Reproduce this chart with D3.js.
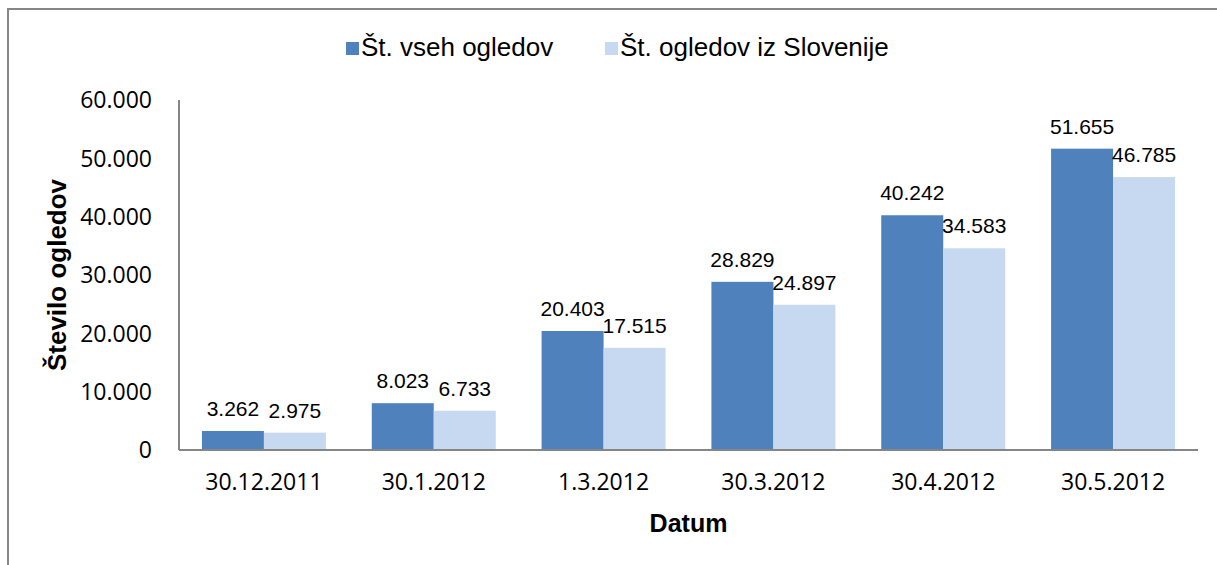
<!DOCTYPE html>
<html>
<head>
<meta charset="utf-8">
<script src="https://cdn.jsdelivr.net/npm/d3@7"></script>
<style>
  body { margin: 0; background: #fff; }
  svg { display: block; }
</style>
</head>
<body>
<svg id="chart" width="1217" height="565"></svg>
<script>
// data
const dates = ["30.12.2011", "30.1.2012", "1.3.2012", "30.3.2012", "30.4.2012", "30.5.2012"];
const seriesNames = ["Št. vseh ogledov", "Št. ogledov iz Slovenije"];
const allViews = [3262, 8023, 20403, 28829, 40242, 51655];
const sloViews = [2975, 6733, 17515, 24897, 34583, 46785];
const yTicks = [0, 10000, 20000, 30000, 40000, 50000, 60000];

const colors = ["#4f81bd", "#c6d9f1"];
const axisGray = "#868686";

const svg = d3.select("#chart");
const plotLeft = 179, plotRight = 1198, plotTop = 100, plotBottom = 450;

// outer frame, only top and left edges show
svg.append("rect")
    .attr("x", 8).attr("y", 9)
    .attr("width", 1260).attr("height", 600)
    .attr("fill", "none")
    .attr("stroke", axisGray)
    .attr("stroke-width", 2);

const x = d3.scaleBand()
    .domain(dates)
    .range([plotLeft, plotRight])
    .paddingInner(0.27)
    .paddingOuter(0.135);

const xSub = d3.scaleBand()
    .domain([0, 1])
    .range([0, x.bandwidth()]);

const y = d3.scaleLinear()
    .domain([0, 60000])
    .range([plotBottom, plotTop]);

const fmt = v => d3.format(",")(v).replace(/,/g, ".");

// y tick labels
svg.append("g").selectAll("text")
    .data(yTicks).enter()
  .append("text")
    .attr("x", 152)
    .attr("y", d => y(d))
    .attr("dy", "0.36em")
    .attr("text-anchor", "end")
    .style("font-family", "'Open Sans', sans-serif")
    .style("font-size", "23px")
    .attr("fill", "#000")
    .text(fmt);

// bars
const data = dates.map((d, i) => ({date: d, values: [allViews[i], sloViews[i]]}));

const groups = svg.append("g").selectAll("g")
    .data(data).enter()
  .append("g")
    .attr("transform", d => `translate(${x(d.date)},0)`);

groups.selectAll("rect")
    .data(d => d.values).enter()
  .append("rect")
    .attr("x", (d, i) => xSub(i))
    .attr("y", d => y(d))
    .attr("width", xSub.bandwidth())
    .attr("height", d => y(0) - y(d))
    .attr("fill", (d, i) => colors[i]);

groups.selectAll("text")
    .data(d => d.values).enter()
  .append("text")
    .attr("x", (d, i) => xSub(i) + xSub.bandwidth() / 2)
    .attr("y", d => y(d) - 15)
    .attr("text-anchor", "middle")
    .style("font-family", "'Liberation Sans', Arial, sans-serif")
    .style("font-size", "21px")
    .attr("fill", "#000")
    .text(fmt);

// axis lines (no tick marks)
svg.append("line")
    .attr("x1", plotLeft).attr("x2", plotLeft)
    .attr("y1", plotTop).attr("y2", plotBottom)
    .attr("stroke", axisGray).attr("stroke-width", 2);
svg.append("line")
    .attr("x1", plotLeft).attr("x2", plotRight)
    .attr("y1", plotBottom).attr("y2", plotBottom)
    .attr("stroke", axisGray).attr("stroke-width", 2);

// x labels
svg.append("g").selectAll("text")
    .data(dates).enter()
  .append("text")
    .attr("x", d => x(d) + x.bandwidth() / 2)
    .attr("y", 490)
    .attr("text-anchor", "middle")
    .style("font-family", "'Open Sans', sans-serif")
    .style("font-size", "23px")
    .attr("fill", "#000")
    .text(d => d);

// axis titles
svg.append("text")
    .attr("x", (plotLeft + plotRight) / 2)
    .attr("y", 532)
    .attr("text-anchor", "middle")
    .style("font-family", "'Liberation Sans', Arial, sans-serif")
    .style("font-size", "25px")
    .style("font-weight", "bold")
    .text("Datum");

svg.append("text")
    .attr("transform", `translate(66,${(plotTop + plotBottom) / 2}) rotate(-90)`)
    .attr("text-anchor", "middle")
    .style("font-family", "'Liberation Sans', Arial, sans-serif")
    .style("font-size", "26px")
    .style("font-weight", "bold")
    .text("Število ogledov");

// legend
const legendX = [346, 605];
const legend = svg.append("g").selectAll("g")
    .data(seriesNames).enter()
  .append("g")
    .attr("transform", (d, i) => `translate(${legendX[i]},42)`);

legend.append("rect")
    .attr("width", 13).attr("height", 13)
    .attr("fill", (d, i) => colors[i]);

legend.append("text")
    .attr("x", 15)
    .attr("y", 14)
    .style("font-family", "'Liberation Sans', Arial, sans-serif")
    .style("font-size", "26px")
    .attr("fill", "#000")
    .text(d => d);
</script>
</body>
</html>
